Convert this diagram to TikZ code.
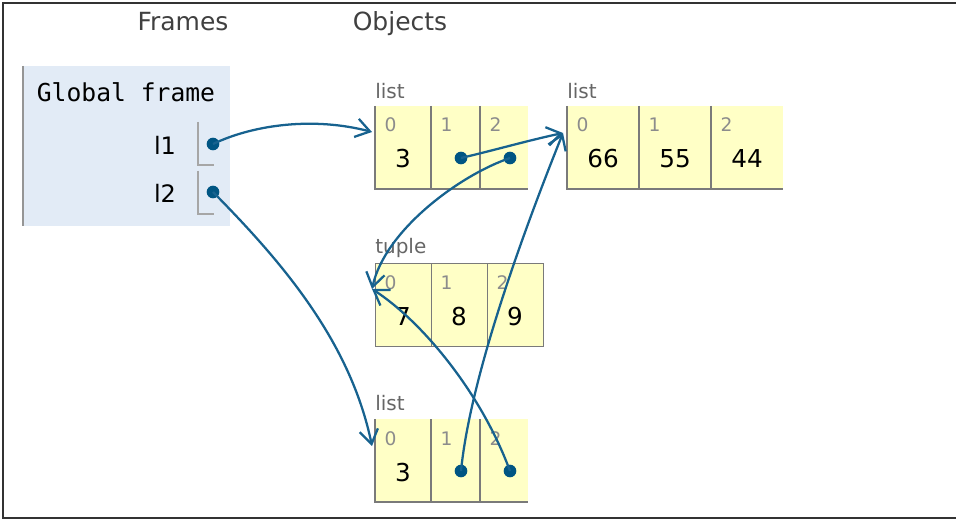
\documentclass[tikz,border=0pt]{standalone}
\usepackage{fontspec}
\setmainfont{DejaVu Sans}
\setmonofont{DejaVu Sans Mono}
\usetikzlibrary{arrows, arrows.meta}
\usetikzlibrary{calc}

\definecolor{framebg}{HTML}{E2EBF6}
\definecolor{cellbg}{HTML}{FFFFC6}
\definecolor{celledge}{HTML}{7A7A7A}
\definecolor{ptrdot}{HTML}{005583}
\definecolor{ptrline}{HTML}{17628F}

\tikzset{
  heading/.style={anchor=base, inner sep=0pt, text=black!75, font=\fontsize{18.75}{22}\selectfont},
  typename/.style={anchor=base west, inner sep=0pt, text=black!60, font=\fontsize{15}{18}\selectfont},
  varname/.style={anchor=base, inner sep=0pt, font=\fontsize{18}{22}\selectfont},
  cell/.style={anchor=north west, fill=cellbg, inner sep=0pt, outer sep=0pt,
    text height=46.5pt, text depth=15.75pt, font=\fontsize{18.5}{22}\selectfont},
  idx/.style={label={[anchor=base west, inner sep=0pt, xshift=7.1pt, yshift=-19.5pt,
    text=black!45, font=\fontsize{14}{16}\selectfont]north west:#1}},
  edge/.style={draw=celledge, line width=1pt},
  bracket/.style={draw=black!35, line width=0.8pt},
  dot/.style={circle, fill=ptrdot, inner sep=0pt, minimum size=9.5pt},
  ptr/.style={draw=ptrline, line width=1.7pt, -{Straight Barb[length=10.5pt, width=14pt]}}
}

\begin{document}
\begin{tikzpicture}[x=0.75pt, y=-0.75pt]
  \useasboundingbox (0,0) rectangle (956,520);
  \draw[line width=1.2pt, black!80] (3,3) rectangle (962,518);

  \node[heading] (frames) at (183,31) {Frames};
  \node[heading] (objects) at (400,31) {Objects};

  % global frame
  \fill[framebg] (22,66) rectangle (230,226);
  \draw[celledge!80, line width=1pt] (23,66) -- (23,226);
  \node[anchor=base, inner sep=0pt, font=\ttfamily\fontsize{18.5}{22}\selectfont] (gframe) at (126,101.5) {Global frame};
  \node[varname] (l1) at (165,155) {l1};
  \node[varname] (l2) at (165,203) {l2};
  \draw[bracket] (198,122) |- (214,165);
  \draw[bracket] (198,171) |- (214,214);

  % objects
  \node[typename] (latype) at (375,99) {list};
  \node[cell, idx=0, minimum width=42pt] (la0) at (375,106) {3};
  \node[cell, idx=1, minimum width=36.75pt] (la1) at (431,106) {};
  \node[cell, idx=2, minimum width=36pt] (la2) at (480,106) {};

  \node[typename] (lbtype) at (567,99) {list};
  \node[cell, idx=0, minimum width=54pt] (lb0) at (567,106) {66};
  \node[cell, idx=1, minimum width=54pt] (lb1) at (639,106) {55};
  \node[cell, idx=2, minimum width=54pt] (lb2) at (711,106) {44};

  \node[typename] (tptype) at (375,253) {tuple};
  \node[cell, draw=celledge, idx=0, minimum width=42pt] (tp0) at (375,263) {7};
  \node[cell, draw=celledge, idx=1, minimum width=42pt] (tp1) at (431,263) {8};
  \node[cell, draw=celledge, idx=2, minimum width=42pt] (tp2) at (487,263) {9};

  \node[typename] (lctype) at (375,410) {list};
  \node[cell, idx=0, minimum width=42pt] (lc0) at (375,419) {3};
  \node[cell, idx=1, minimum width=36.75pt] (lc1) at (431,419) {};
  \node[cell, idx=2, minimum width=36pt] (lc2) at (480,419) {};

  \draw[edge] (la0.north west) |- (la2.south east);
  \draw[edge] (la1.north west) -- (la1.south west);
  \draw[edge] (la2.north west) -- (la2.south west);
  \draw[edge] (lb0.north west) |- (lb2.south east);
  \draw[edge] (lb1.north west) -- (lb1.south west);
  \draw[edge] (lb2.north west) -- (lb2.south west);
  \draw[edge] (lc0.north west) |- (lc2.south east);
  \draw[edge] (lc1.north west) -- (lc1.south west);
  \draw[edge] (lc2.north west) -- (lc2.south west);

  % pointers
  \node[dot] (l1p) at (213,144) {};
  \node[dot] (l2p) at (213,192) {};
  \node[dot] (la1p) at ($(la1.north west)+(30,52)$) {};
  \node[dot] (la2p) at ($(la2.north west)+(30,52)$) {};
  \node[dot] (lc1p) at ($(lc1.north west)+(30,52)$) {};
  \node[dot] (lc2p) at ($(lc2.north west)+(30,52)$) {};

  \coordinate (lain) at ($(la0.north west)+(-3,26)$);
  \coordinate (lbin) at ($(lb0.north west)+(-4,27)$);
  \coordinate (tpin) at ($(tp0.north west)+(-3,26)$);
  \coordinate (lcin) at ($(lc0.north west)+(-3,27)$);

  \draw[ptr] (l1p.center) .. controls (255,124) and (315,117) .. (lain);
  \draw[ptr] (la1p.center) .. controls (495,150) and (530,140) .. (lbin);
  \draw[ptr] (la2p.center) .. controls (460,175) and (385,230) .. (tpin);
  \draw[ptr] (lc1p.center) .. controls (470,380) and (520,240) .. (lbin);
  \draw[ptr] (lc2p.center) .. controls (480,390) and (420,320) .. (tpin);
  \draw[ptr] (l2p.center) .. controls (280,260) and (350,340) .. (lcin);
\end{tikzpicture}
\end{document}
